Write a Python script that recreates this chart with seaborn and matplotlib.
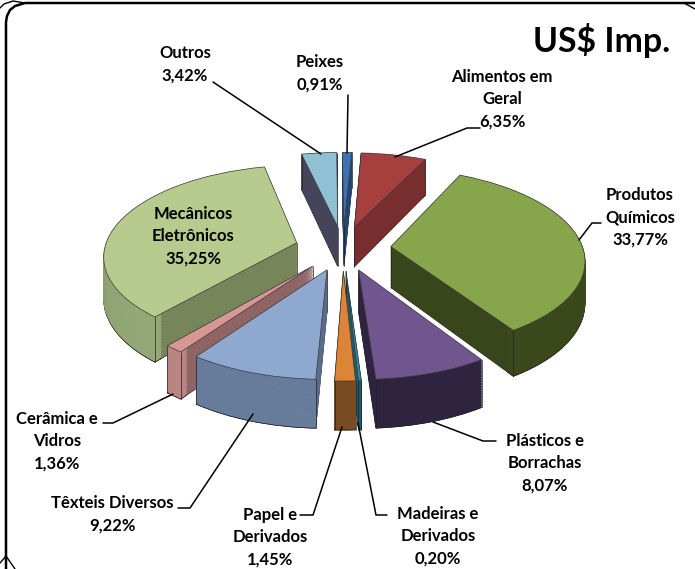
import numpy as np
import matplotlib.pyplot as plt
import seaborn as sns
from matplotlib.transforms import Transform

# slices, clockwise from 12 o'clock
categories = ["Peixes", "Alimentos em\nGeral", "Produtos\nQuímicos", "Plásticos e\nBorrachas",
              "Madeiras e\nDerivados", "Papel e\nDerivados", "Têxteis Diversos", "Cerâmica e\nVidros",
              "Mecânicos\nEletrônicos", "Outros"]
values = [0.91, 6.35, 33.77, 8.07, 0.20, 1.45, 9.22, 1.36, 35.25, 3.42]
pct_labels = ["0,91%", "6,35%", "33,77%", "8,07%", "0,20%", "1,45%", "9,22%", "1,36%", "35,25%", "3,42%"]

top_colors = ["#3d71b0", "#a5403f", "#87a54b", "#71558f", "#2f8ca5",
              "#dd8537", "#8fa8cf", "#d69795", "#b7cb8f", "#8fc0d3"]
cut_colors = ["#25466f", "#782e2e", "#39451b", "#2e2340", "#1d5a6b",
              "#7a4a20", "#5a6c8a", "#8f6464", "#76865a", "#44445a"]
rim_colors = ["#2f5a8c", "#7a3030", "#3d4a1c", "#30253f", "#1d5a6b",
              "#7a4a20", "#6a7f9f", "#c08a88", "#9aae7c", "#44445a"]

# front-to-back draw order of the slices
draw_rank = [1, 1, 2, 4, 6, 6, 5, 3, 2, 1]

label_pos = [(320, 61), (502, 76), (640, 194), (545, 440), (438, 513),
             (270, 514), (112, 502), (57, 418), (193, 213), (185, 52)]

leaders = [
    [(348, 95), (347, 153)],
    [(480, 128), (467, 128), (395, 157)],
    [(601, 223), (592, 223), (579, 240)],
    [(496, 441), (483, 441), (433, 422)],
    [(387, 515), (376, 515), (358, 423)],
    [(300, 515), (313, 515), (342, 427)],
    [(178, 508), (190, 508), (253, 414)],
    [(103, 423), (113, 423), (173, 394)],
    [(213, 82), (321, 154)],
]

CX, CY = 343, 248
RX, RY = 192, 89
K = 0.131
DEPTH = 41
LAYERS = 30
EXPLODE = 0.25
START = 90.5


class Tilt(Transform):
    # projects the unit pie onto the page, z=0 top face, z=1 bottom face
    input_dims = 2
    output_dims = 2

    def __init__(self, z):
        super().__init__()
        self.z = z

    def transform_non_affine(self, xy):
        xy = np.asarray(xy)
        w = 1 + K * xy[:, 1]
        return np.column_stack([CX + RX * xy[:, 0] / w,
                                CY + (DEPTH * self.z - RY * xy[:, 1]) / w])


sns.set_theme(style="white")
plt.rcParams['font.family'] = ['Lato', 'DejaVu Sans']

fig = plt.figure(figsize=(6.95, 5.69), dpi=100)
ax = fig.add_axes([0, 0, 1, 1])


def draw_layer(z, colors, base, width=None, edge=None):
    props = {"linewidth": 0.5, "edgecolor": edge}
    if width is not None:
        props["width"] = width
    wedges, _ = ax.pie(values, colors=colors, explode=[EXPLODE] * len(values), startangle=START,
                       counterclock=False, wedgeprops=props)
    for i, w in enumerate(wedges):
        w.set_transform(Tilt(z) + ax.transData)
        w.set_zorder(draw_rank[i] * 1000 + base)
        if edge is None:
            w.set_edgecolor(colors[i])
    return wedges


# side walls, bottom up
for n, z in enumerate(np.linspace(1, 0.02, LAYERS)):
    draw_layer(z, cut_colors, n * 2, edge="#222222" if n == 0 else None)
    draw_layer(z, rim_colors, n * 2 + 1, width=0.04, edge="#222222" if n == 0 else None)

top_wedges = draw_layer(0, top_colors, 500, edge="#3a3a3a")

# thin vertical lines at the wedge corners, below the top faces
for i, w in enumerate(top_wedges):
    a1, a2 = np.radians([w.theta1, w.theta2])
    cx, cy = w.center
    corners = [(cx, cy), (cx + np.cos(a1), cy + np.sin(a1)), (cx + np.cos(a2), cy + np.sin(a2))]
    for c in corners:
        p0 = Tilt(0).transform_non_affine(np.array([c]))[0]
        p1 = Tilt(1).transform_non_affine(np.array([c]))[0]
        ax.plot([p0[0], p1[0]], [p0[1], p1[1]], color="#222222", lw=0.5,
                zorder=draw_rank[i] * 1000 + 400)

ax.set_aspect("auto")
ax.set_xlim(0, 695)
ax.set_ylim(569, 0)
ax.axis("off")

# leader lines
for pts in leaders:
    xs, ys = zip(*pts)
    ax.plot(xs, ys, color="black", lw=1.1, zorder=9000, solid_joinstyle="miter")

# data labels
for cat, pct, (x, y) in zip(categories, pct_labels, label_pos):
    ax.text(x, y - 7, cat + "\n" + pct, ha="center", va="top", fontsize=12, fontweight="bold",
            color="black", linespacing=1.48, zorder=9500)

ax.text(670, 40, "US$ Imp.", ha="right", va="center", fontsize=24.4, fontweight="bold",
        color="black", zorder=9500)

# cell frame
frame_x = [6, 6, 7, 10, 15, 25, 684, 695]
frame_y = [569, 22, 16, 10, 6, 3, 3, 3]
ax.plot(frame_x, frame_y, color="black", lw=1.8, zorder=9600)
ax.plot([0, 4, 13, 25], [8, 4, 1, 3], color="black", lw=1.0, zorder=9600)
ax.plot([684, 695], [3, 9], color="black", lw=1.0, zorder=9600)
ax.plot([6, 15], [556, 569], color="black", lw=1.0, zorder=9600)
ax.plot([6, 0], [556, 563], color="black", lw=1.0, zorder=9600)

fig.savefig("out.png", dpi=100)
